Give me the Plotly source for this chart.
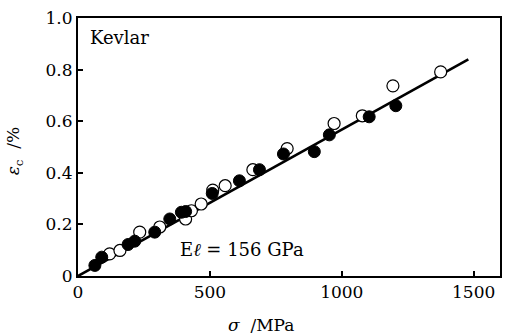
import plotly.graph_objects as go

filled_x = [64, 90, 190, 215, 291, 348, 392, 408, 509, 612, 688, 779, 896, 953, 1104, 1205]
filled_y = [0.041, 0.073, 0.122, 0.135, 0.17, 0.221, 0.247, 0.25, 0.32, 0.369, 0.412, 0.473, 0.482, 0.547, 0.617, 0.66]
open_x = [120, 159, 234, 310, 408, 430, 467, 511, 558, 663, 793, 971, 1078, 1194, 1375]
open_y = [0.086, 0.099, 0.17, 0.19, 0.221, 0.253, 0.279, 0.333, 0.35, 0.412, 0.494, 0.591, 0.621, 0.737, 0.791]
fit_x = [0, 1480]
fit_y = [0, 0.84]
x_ticks = [0, 500, 1000, 1500]
y_ticks = [0, 0.2, 0.4, 0.6, 0.8, 1.0]
y_labels = ["0", "0.2", "0.4", "0.6", "0.8", "1.0"]

font = "DejaVu Serif"
L, R, T, B = 78, 8, 16, 60
W, H = 510, 336
pw, ph = W - L - R, H - T - B


def px(x):
    return (x - L) / pw


def py(y):
    return (H - B - y) / ph


fig = go.Figure()
fig.add_trace(go.Scatter(x=fit_x, y=fit_y, mode="lines", line=dict(color="black", width=2.6), showlegend=False))
fig.add_trace(go.Scatter(x=open_x, y=open_y, mode="markers",
                         marker=dict(size=12, color="white", line=dict(color="black", width=1.2)), showlegend=False))
fig.add_trace(go.Scatter(x=filled_x, y=filled_y, mode="markers",
                         marker=dict(size=12, color="black", line=dict(color="black", width=1)), showlegend=False))

fig.update_layout(
    width=W, height=H, margin=dict(l=L, r=R, t=T, b=B),
    paper_bgcolor="white", plot_bgcolor="white",
    font=dict(family=font, size=17, color="black"),
    xaxis=dict(range=[0, 1600], tickvals=x_ticks, ticktext=[str(v) for v in x_ticks],
               ticks="inside", ticklen=5, tickwidth=1.5, tickcolor="black",
               showline=True, linecolor="black", linewidth=2, mirror=True,
               showgrid=False, zeroline=False, tickfont=dict(size=17, family=font)),
    yaxis=dict(range=[0, 1.0], tickvals=y_ticks, ticktext=y_labels,
               ticks="inside", ticklen=5, tickwidth=1.5, tickcolor="black",
               showline=True, linecolor="black", linewidth=2, mirror=True,
               showgrid=False, zeroline=False, tickfont=dict(size=17, family=font)),
    annotations=[
        dict(x=px(88), y=py(36), xref="paper", yref="paper", text="Kevlar", showarrow=False,
             xanchor="left", yanchor="middle", font=dict(size=18, family=font)),
        dict(x=px(178), y=py(249), xref="paper", yref="paper", text="E<i>ℓ</i> = 156 GPa", showarrow=False,
             xanchor="left", yanchor="middle", font=dict(size=18, family=font)),
        dict(x=px(262), y=py(325), xref="paper", yref="paper", text="<i>σ</i>  /MPa", showarrow=False,
             xanchor="center", yanchor="middle", font=dict(size=17, family=font)),
        dict(x=px(15), y=py(150), xref="paper", yref="paper", text="<i>ε</i><sub>c</sub>  /%", showarrow=False,
             textangle=-90, xanchor="center", yanchor="middle", font=dict(size=17, family=font)),
    ],
)
fig.write_html("out.html")
